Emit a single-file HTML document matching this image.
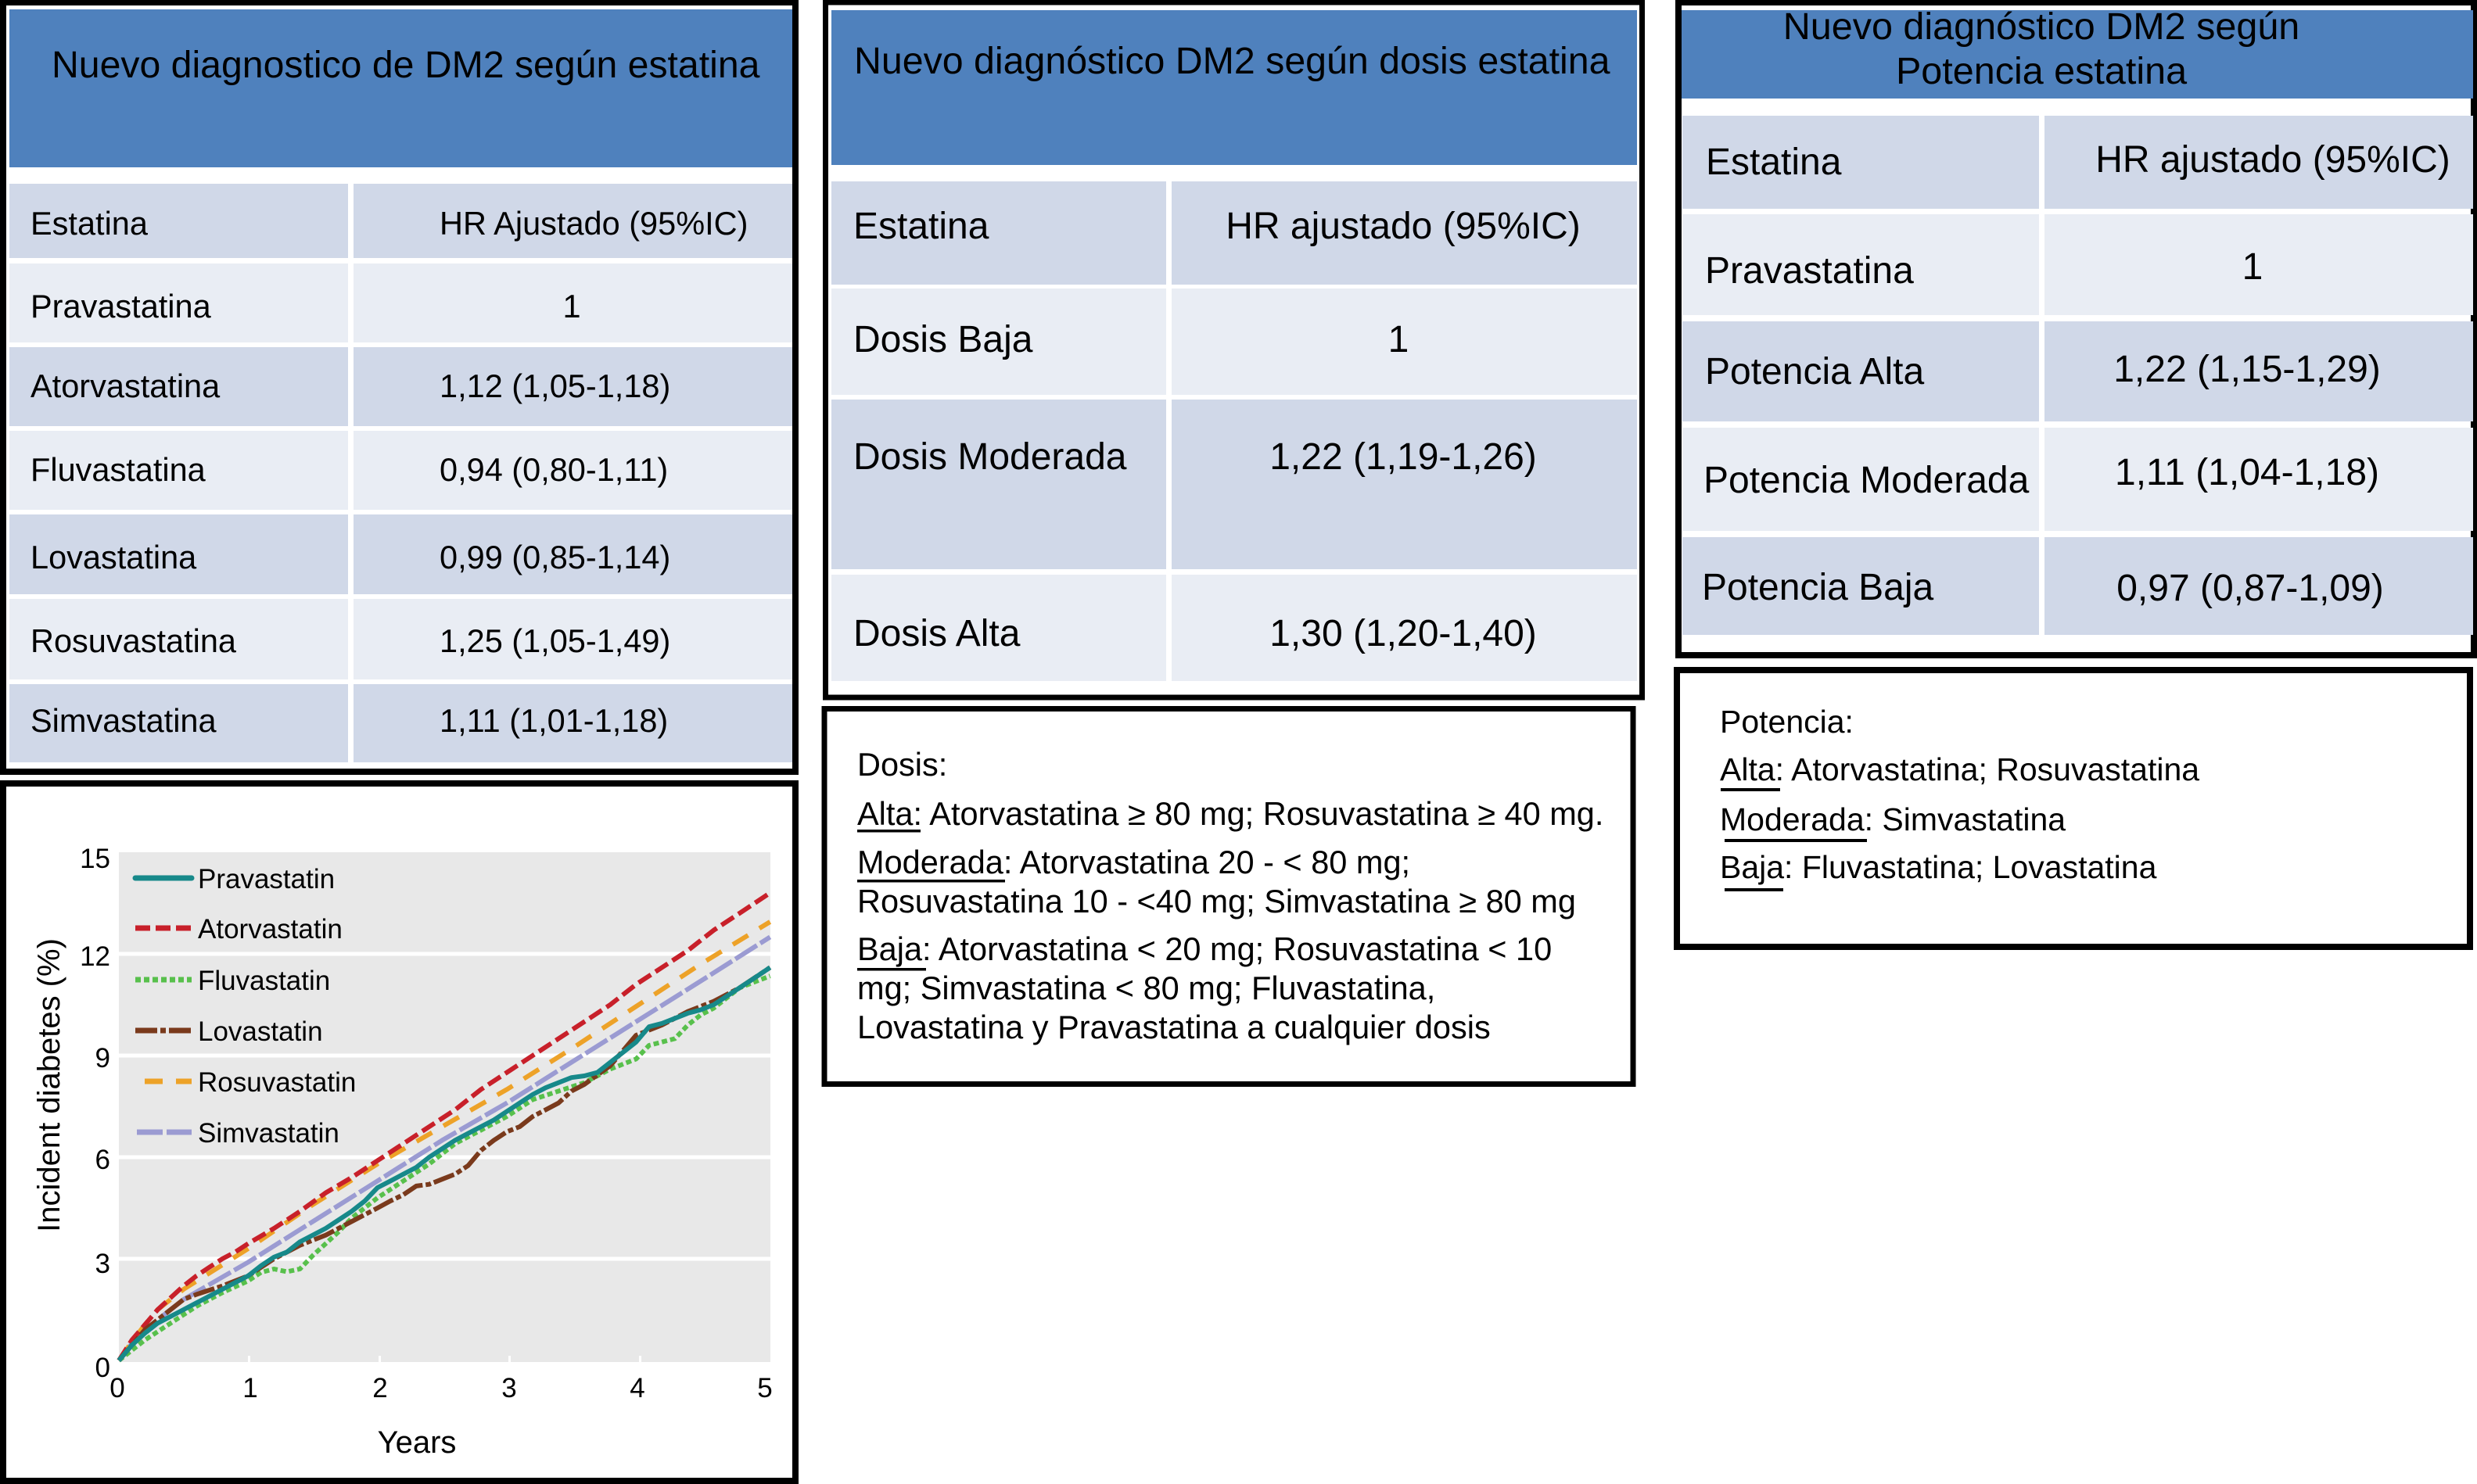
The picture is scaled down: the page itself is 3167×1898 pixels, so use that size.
<!DOCTYPE html>
<html><head><meta charset="utf-8"><style>
html,body{margin:0;padding:0;background:#fff;}
svg{display:block;}
text{font-family:"Liberation Sans",Arial,sans-serif;fill:#000;}
</style></head><body>
<svg width="3167" height="1898" viewBox="0 0 3167 1898" xmlns="http://www.w3.org/2000/svg">
<rect x="0" y="0" width="3167" height="1898" fill="#fff"/>

<!-- ============ TABLE 1 ============ -->
<rect x="4" y="3" width="1013" height="984" fill="#fff" stroke="#000" stroke-width="8"/>
<rect x="12" y="12" width="1001" height="202" fill="#4f81bd"/>
<text x="66" y="99" font-size="48.2">Nuevo diagnostico de DM2 según estatina</text>
<g>
<rect x="12" y="235" width="433" height="95" fill="#d0d8e8"/><rect x="452" y="235" width="561" height="95" fill="#d0d8e8"/>
<rect x="12" y="337" width="433" height="101" fill="#e9edf4"/><rect x="452" y="337" width="561" height="101" fill="#e9edf4"/>
<rect x="12" y="444" width="433" height="101" fill="#d0d8e8"/><rect x="452" y="444" width="561" height="101" fill="#d0d8e8"/>
<rect x="12" y="551" width="433" height="101" fill="#e9edf4"/><rect x="452" y="551" width="561" height="101" fill="#e9edf4"/>
<rect x="12" y="658" width="433" height="102" fill="#d0d8e8"/><rect x="452" y="658" width="561" height="102" fill="#d0d8e8"/>
<rect x="12" y="766" width="433" height="103" fill="#e9edf4"/><rect x="452" y="766" width="561" height="103" fill="#e9edf4"/>
<rect x="12" y="875" width="433" height="100" fill="#d0d8e8"/><rect x="452" y="875" width="561" height="100" fill="#d0d8e8"/>
</g>
<g font-size="41.5">
<text x="39" y="300">Estatina</text><text x="562" y="300">HR Ajustado (95%IC)</text>
<text x="39" y="406">Pravastatina</text><text x="731" y="406" text-anchor="middle">1</text>
<text x="39" y="508">Atorvastatina</text><text x="562" y="508">1,12 (1,05-1,18)</text>
<text x="39" y="615">Fluvastatina</text><text x="562" y="615">0,94 (0,80-1,11)</text>
<text x="39" y="727">Lovastatina</text><text x="562" y="727">0,99 (0,85-1,14)</text>
<text x="39" y="834">Rosuvastatina</text><text x="562" y="834">1,25 (1,05-1,49)</text>
<text x="39" y="936">Simvastatina</text><text x="562" y="936">1,11 (1,01-1,18)</text>
</g>

<!-- ============ TABLE 2 ============ -->
<rect x="1055.5" y="3" width="1044" height="889" fill="#fff" stroke="#000" stroke-width="7"/>
<rect x="1063" y="13" width="1030" height="198" fill="#4f81bd"/>
<text x="1092" y="94" font-size="48.3">Nuevo diagnóstico DM2 según dosis estatina</text>
<rect x="1063" y="232" width="428" height="132" fill="#d0d8e8"/><rect x="1498" y="232" width="595" height="132" fill="#d0d8e8"/>
<rect x="1063" y="369" width="428" height="136" fill="#e9edf4"/><rect x="1498" y="369" width="595" height="136" fill="#e9edf4"/>
<rect x="1063" y="511" width="428" height="217" fill="#d0d8e8"/><rect x="1498" y="511" width="595" height="217" fill="#d0d8e8"/>
<rect x="1063" y="735" width="428" height="136" fill="#e9edf4"/><rect x="1498" y="735" width="595" height="136" fill="#e9edf4"/>
<g font-size="48">
<text x="1091" y="305">Estatina</text><text x="1794" y="305" text-anchor="middle">HR ajustado (95%IC)</text>
<text x="1091" y="450">Dosis Baja</text><text x="1788" y="450" text-anchor="middle">1</text>
<text x="1091" y="600">Dosis Moderada</text><text x="1794" y="600" text-anchor="middle">1,22 (1,19-1,26)</text>
<text x="1091" y="826">Dosis Alta</text><text x="1794" y="826" text-anchor="middle">1,30 (1,20-1,40)</text>
</g>

<!-- Dosis box -->
<rect x="1054" y="906.5" width="1034" height="480" fill="#fff" stroke="#000" stroke-width="7"/>
<g font-size="41.5">
<text x="1096" y="992">Dosis:</text>
<text x="1096" y="1055">Alta: Atorvastatina ≥ 80 mg; Rosuvastatina ≥ 40 mg.</text>
<text x="1096" y="1117">Moderada: Atorvastatina 20 - &lt; 80 mg;</text>
<text x="1096" y="1167">Rosuvastatina 10 - &lt;40 mg; Simvastatina ≥ 80 mg</text>
<text x="1096" y="1228">Baja: Atorvastatina &lt; 20 mg; Rosuvastatina &lt; 10</text>
<text x="1096" y="1278">mg; Simvastatina &lt; 80 mg; Fluvastatina,</text>
<text x="1096" y="1328">Lovastatina y Pravastatina a cualquier dosis</text>
</g>
<rect x="1096" y="1061" width="81" height="3.5" fill="#000"/>
<rect x="1096" y="1125" width="189" height="3.5" fill="#000"/>
<rect x="1096" y="1238" width="88" height="3.5" fill="#000"/>

<!-- ============ TABLE 3 ============ -->
<rect x="2146" y="3" width="1017" height="835" fill="#fff" stroke="#000" stroke-width="8"/>
<rect x="2150" y="13" width="1012" height="113" fill="#4f81bd"/>
<text x="2610" y="50" font-size="48.5" text-anchor="middle">Nuevo diagnóstico DM2 según</text>
<text x="2610" y="107" font-size="48.5" text-anchor="middle">Potencia estatina</text>
<rect x="2151" y="148" width="456" height="119" fill="#d0d8e8"/><rect x="2614" y="148" width="548" height="119" fill="#d0d8e8"/>
<rect x="2151" y="274" width="456" height="129" fill="#e9edf4"/><rect x="2614" y="274" width="548" height="129" fill="#e9edf4"/>
<rect x="2151" y="411" width="456" height="128" fill="#d0d8e8"/><rect x="2614" y="411" width="548" height="128" fill="#d0d8e8"/>
<rect x="2151" y="547" width="456" height="132" fill="#e9edf4"/><rect x="2614" y="547" width="548" height="132" fill="#e9edf4"/>
<rect x="2151" y="687" width="456" height="125" fill="#d0d8e8"/><rect x="2614" y="687" width="548" height="125" fill="#d0d8e8"/>
<g font-size="48">
<text x="2181" y="223">Estatina</text><text x="2906" y="220" text-anchor="middle">HR ajustado (95%IC)</text>
<text x="2180" y="362">Pravastatina</text><text x="2880" y="357" text-anchor="middle">1</text>
<text x="2180" y="491">Potencia Alta</text><text x="2873" y="488" text-anchor="middle">1,22 (1,15-1,29)</text>
<text x="2178" y="630">Potencia Moderada</text><text x="2873" y="620" text-anchor="middle">1,11 (1,04-1,18)</text>
<text x="2176" y="767">Potencia Baja</text><text x="2877" y="768" text-anchor="middle">0,97 (0,87-1,09)</text>
</g>

<!-- Potencia box -->
<rect x="2144" y="857" width="1014" height="354" fill="#fff" stroke="#000" stroke-width="8"/>
<g font-size="41">
<text x="2199" y="937">Potencia:</text>
<text x="2199" y="998">Alta: Atorvastatina; Rosuvastatina</text>
<text x="2199" y="1062">Moderada: Simvastatina</text>
<text x="2199" y="1123">Baja: Fluvastatina; Lovastatina</text>
</g>
<rect x="2200" y="1008" width="76" height="4" fill="#000"/>
<rect x="2205" y="1073" width="182" height="4" fill="#000"/>
<rect x="2205" y="1136" width="75" height="4" fill="#000"/>

<!-- ============ CHART ============ -->
<rect x="4" y="1002" width="1013" height="892" fill="#fff" stroke="#000" stroke-width="8"/>
<rect x="152" y="1090" width="833" height="652" fill="#e8e8e8"/>
<g fill="#fff">
<rect x="152" y="1217.5" width="833" height="5"/>
<rect x="152" y="1347.5" width="833" height="5"/>
<rect x="152" y="1477.5" width="833" height="5"/>
<rect x="152" y="1607.5" width="833" height="5"/>
<rect x="317" y="1734" width="3" height="8"/>
<rect x="484" y="1734" width="3" height="8"/>
<rect x="650" y="1734" width="3" height="8"/>
<rect x="817" y="1734" width="3" height="8"/>
</g>
<g font-size="35" text-anchor="end">
<text x="141" y="1110">15</text>
<text x="141" y="1235">12</text>
<text x="141" y="1365">9</text>
<text x="141" y="1495">6</text>
<text x="141" y="1628">3</text>
<text x="141" y="1761">0</text>
</g>
<g font-size="35" text-anchor="middle">
<text x="150" y="1787">0</text>
<text x="320" y="1787">1</text>
<text x="486" y="1787">2</text>
<text x="651" y="1787">3</text>
<text x="815" y="1787">4</text>
<text x="978" y="1787">5</text>
</g>
<text x="533" y="1858" font-size="40" text-anchor="middle">Years</text>
<text transform="translate(76,1388) rotate(-90)" font-size="40" text-anchor="middle">Incident diabetes (%)</text>

<!-- series -->
<g fill="none" stroke-width="6" stroke-linejoin="round" transform="translate(152,0) scale(0.99,1) translate(-152,0)">
<polyline stroke="#9b9bd2" stroke-dasharray="33 5" points="152,1740 168.7,1718.3 202.1,1688 235.5,1662 319,1614.3 402.5,1562.3 486,1510.4 569.5,1458.4 653,1410.7 736.5,1358.7 820,1306.7 903.5,1254.7 993,1198.4"/>
<polyline stroke="#eda228" stroke-dasharray="23 17" points="152,1740 168.7,1716.2 185.4,1694.5 202.1,1675 235.5,1649 319,1597 402.5,1540.7 486,1488.7 569.5,1441 653,1393.4 736.5,1341.4 820,1287.2 903.5,1233 993,1179"/>
<polyline stroke="#c8202a" stroke-dasharray="19 7" points="152,1740 168.7,1714 185.4,1694.5 202.1,1675 218.8,1659.8 235.5,1644.7 252.2,1631.7 268.9,1620.8 285.6,1610 302.3,1601.3 319,1590.5 352.4,1571 385.8,1549.3 419.2,1525.5 452.6,1506 486,1484.4 519.4,1462.7 552.8,1441 586.2,1419.4 619.6,1393.4 653,1371.7 686.4,1350 719.8,1328.4 753.2,1306.7 786.6,1285 820,1259 853.4,1237.4 886.8,1215.7 920.2,1189.7 953.6,1168 993,1142"/>
<polyline stroke="#58c04c" stroke-dasharray="7 4" points="152,1740 185.4,1714 218.8,1692.3 252.2,1670.7 285.6,1653.3 319,1638.2 335.7,1627.3 352.4,1623 369.1,1626.5 385.8,1623 402.5,1605.7 419.2,1590.5 435.9,1575.3 452.6,1558 486,1532 519.4,1510.4 552.8,1488.7 586.2,1462.7 619.6,1445.4 653,1428 686.4,1406.4 719.8,1395.5 753.2,1384.7 786.6,1367.4 820,1354.4 836.7,1337 853.4,1332.7 870.1,1328.4 886.8,1311 903.5,1298 920.2,1289.4 936.9,1276.4 953.6,1263.4 993,1248.2"/>
<polyline stroke="#7a3a1c" stroke-dasharray="28 4 7 4" points="152,1740 185.4,1701 218.8,1675 235.5,1662 252.2,1655.5 285.6,1644.7 319,1631.7 352.4,1610 385.8,1592.7 419.2,1579.7 452.6,1562.3 486,1545 502.7,1536 519.4,1528 536.1,1516.9 552.8,1514.7 569.5,1508.2 586.2,1501.7 602.9,1490.9 619.6,1471.4 636.3,1458.4 653,1447.5 669.7,1441 686.4,1428 703.1,1419.4 719.8,1410.7 736.5,1395.5 753.2,1386.9 786.6,1363 820,1324 853.4,1311 886.8,1293.7 920.2,1280.7 953.6,1263.4 993,1237.4"/>
<polyline stroke="#17898a" points="152,1740 168.7,1720.5 185.4,1705.3 202.1,1692.3 218.8,1683.7 235.5,1675 252.2,1666.3 268.9,1657.7 285.6,1649 302.3,1640.3 319,1631.7 335.7,1618.7 352.4,1607.8 369.1,1601.3 385.8,1588.3 402.5,1579.7 419.2,1571 435.9,1560.2 452.6,1549.3 469.3,1536.3 486,1519 502.7,1510.4 519.4,1501.7 536.1,1493 552.8,1480 569.5,1469.2 586.2,1458.4 602.9,1449.7 619.6,1441 636.3,1432.4 653,1421.5 669.7,1410.7 686.4,1399.9 703.1,1391.2 719.8,1384.7 736.5,1378.2 753.2,1376 769.9,1371.7 786.6,1358.7 803.3,1345.7 820,1332.7 836.7,1313.2 853.4,1308.9 870.1,1302.4 886.8,1295.9 903.5,1291.5 920.2,1285 936.9,1274.2 953.6,1263.4 970.3,1252.5 993,1237.4"/>
</g>

<!-- legend -->
<g fill="none" stroke-width="7">
<line x1="173" y1="1123" x2="245" y2="1123" stroke="#17898a" stroke-linecap="round"/>
<line x1="173" y1="1187" x2="245" y2="1187" stroke="#c8202a" stroke-dasharray="19 7"/>
<line x1="173" y1="1253" x2="245" y2="1253" stroke="#58c04c" stroke-dasharray="7 4"/>
<line x1="173" y1="1318" x2="245" y2="1318" stroke="#7a3a1c" stroke-dasharray="28 4 7 4"/>
<line x1="185" y1="1383" x2="245" y2="1383" stroke="#eda228" stroke-dasharray="23 17"/>
<line x1="175" y1="1448" x2="245" y2="1448" stroke="#9b9bd2" stroke-dasharray="33 5"/>
</g>
<g font-size="35">
<text x="253" y="1136">Pravastatin</text>
<text x="253" y="1200">Atorvastatin</text>
<text x="253" y="1266">Fluvastatin</text>
<text x="253" y="1331">Lovastatin</text>
<text x="253" y="1396">Rosuvastatin</text>
<text x="253" y="1461">Simvastatin</text>
</g>
</svg>
</body></html>
